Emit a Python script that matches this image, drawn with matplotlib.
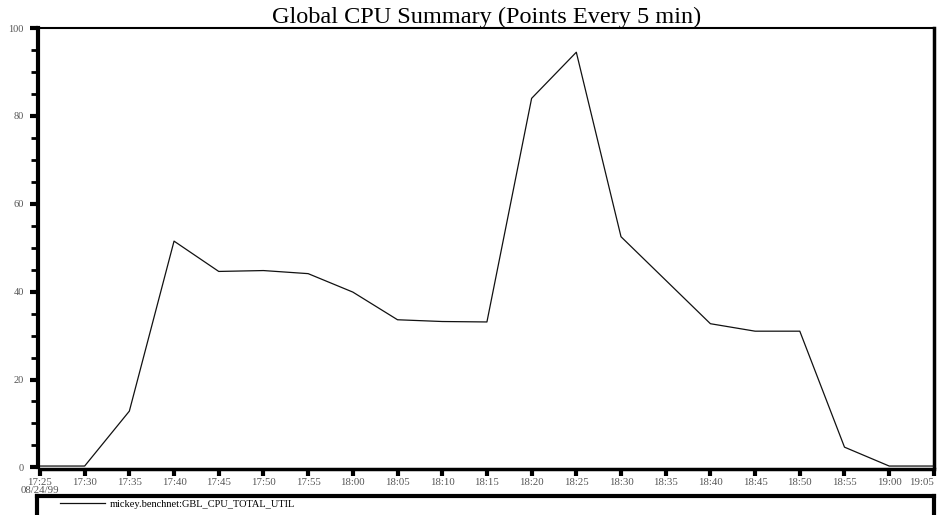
import matplotlib
matplotlib.use('Agg')
import matplotlib.pyplot as plt
from matplotlib.ticker import MultipleLocator

plt.rcParams['font.family'] = ['Liberation Serif', 'DejaVu Serif']

# samples every 5 minutes, 17:25 -> 19:05 on 08/24/99
minutes = list(range(0, 105, 5))
tick_labels = ['17:25\n08/24/99', '17:30', '17:35', '17:40', '17:45', '17:50',
               '17:55', '18:00', '18:05', '18:10', '18:15', '18:20', '18:25',
               '18:30', '18:35', '18:40', '18:45', '18:50', '18:55', '19:00',
               '19:05']
cpu_util = [0.3, 0.3, 12.8, 51.5, 44.6, 44.8, 44.1, 39.9, 33.6, 33.2, 33.1,
            84.0, 94.5, 52.5, 42.6, 32.7, 31.0, 31.0, 4.6, 0.3, 0.3]
series_name = 'mickey.benchnet:GBL_CPU_TOTAL_UTIL'

fig = plt.figure(figsize=(9.4, 5.15), dpi=100)

# legend panel under the plot, running off the bottom edge
leg_ax = fig.add_axes([0.0395, -0.1, 0.137 - 0.0 + 0.817, 0.136], zorder=0)
leg_ax.patch.set_alpha(0)
leg_ax.set_xticks([])
leg_ax.set_yticks([])
for side in leg_ax.spines.values():
    side.set_linewidth(3)

ax = fig.add_axes([0.0425, 0.0925, 0.951, 0.853], zorder=1)
ax.patch.set_alpha(0)

line, = ax.plot(minutes, cpu_util, color='#111111', linewidth=0.9,
                label=series_name, zorder=3)

ax.set_xlim(0, 100)
ax.set_ylim(0, 100)
ax.yaxis.set_major_locator(MultipleLocator(20))
ax.yaxis.set_minor_locator(MultipleLocator(5))
ax.tick_params(axis='y', which='major', length=6, width=3, labelsize=7.5,
               labelcolor='#555555', pad=4)
ax.tick_params(axis='y', which='minor', length=5, width=2)
ax.tick_params(axis='x', which='major', length=5, width=3, pad=1.5,
               labelsize=7.8, labelcolor='#555555')

ax.set_xticks(minutes)
ax.set_xticklabels(tick_labels)

# heavy frame, bottom edge pushed just below the zero line
ax.spines['left'].set_linewidth(3)
ax.spines['left'].set_position(('outward', 1.5))
ax.spines['bottom'].set_linewidth(2.5)
ax.spines['bottom'].set_position(('outward', 1.5))
ax.spines['right'].set_linewidth(2.5)
ax.spines['top'].set_linewidth(1.5)

ax.set_title('Global CPU Summary (Points Every 5 min)', fontsize=17.5,
             pad=0)

leg_ax.legend(handles=[line], loc='center left', frameon=False,
              fontsize=7.5, handlelength=4.3, handletextpad=0.5,
              bbox_to_anchor=(0.015, 0.89))

# tighten the two-line date label, keep the last time label on canvas
fig.canvas.draw()
x_ticks = ax.xaxis.get_major_ticks()
x_ticks[0].label1.set_linespacing(0.8)
x_ticks[-1].label1.set_horizontalalignment('right')

fig.savefig('out.png', dpi=100)
